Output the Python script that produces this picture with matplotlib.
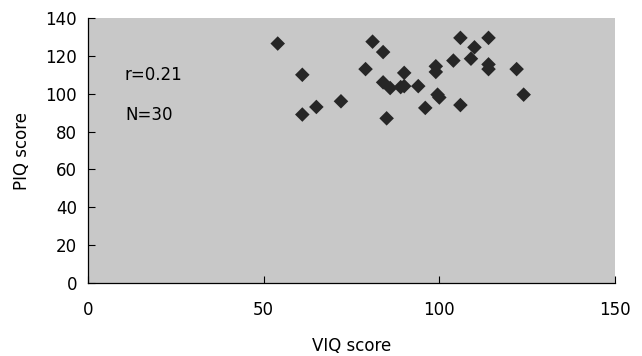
import matplotlib
matplotlib.use("Agg")
import matplotlib.pyplot as plt

viq = [54, 61, 61, 65, 72, 79, 81, 84, 84, 86, 85, 89, 90, 90, 94, 96, 99, 99,
       100, 99.5, 104, 106, 106, 109, 110, 114, 114, 114, 122, 124]
piq = [126.5, 110, 89, 93, 96, 113, 127.5, 122, 106, 103, 87, 103.5, 104, 111, 104, 92.5, 114.5, 111.5,
       98, 99.5, 117.5, 129.5, 94, 118.5, 124.5, 129.5, 115.5, 113, 113, 99.5]
x_ticks = [0, 50, 100, 150]
y_ticks = [0, 20, 40, 60, 80, 100, 120, 140]

plt.rcParams['font.family'] = ['DejaVu Sans']
fig = plt.figure(figsize=(6.42, 3.56), dpi=100)
ax = fig.add_axes([88/642, 1-283/356, (615-88)/642, (283-18)/356])
ax.set_facecolor('#c8c8c8')
ax.scatter(viq, piq, marker='D', s=55, color='#262626', edgecolors='none', zorder=3)
ax.set_xlim(0, 150)
ax.set_ylim(0, 140)
ax.set_xticks(x_ticks)
ax.set_yticks(y_ticks)
ax.tick_params(direction='in', length=5, width=0.8, labelsize=12, colors='black')
ax.tick_params(axis='x', pad=13)
ax.tick_params(axis='y', pad=8)
for s in ['top', 'right']:
    ax.spines[s].set_visible(False)
for s in ['left', 'bottom']:
    ax.spines[s].set_linewidth(0.9)
ax.set_xlabel('VIQ score', fontsize=12, labelpad=13)
ax.set_ylabel('PIQ score', fontsize=12, labelpad=10)
ax.text(10.5, 110, 'r=0.21', fontsize=12, va='center')
ax.text(10.5, 88.5, 'N=30', fontsize=12, va='center')
fig.savefig('out.png', dpi=100)
